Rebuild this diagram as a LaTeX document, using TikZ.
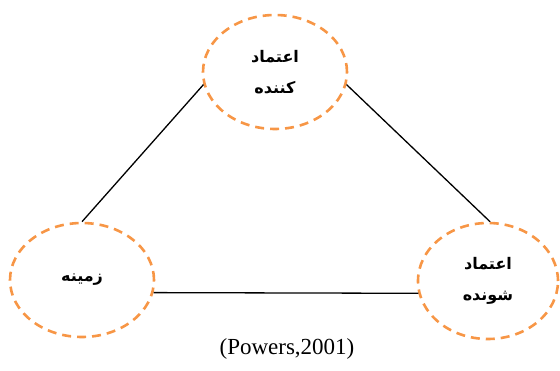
\documentclass[tikz,border=0pt]{standalone}
\usepackage{fontspec}
\setmainfont{Liberation Serif}
\newfontfamily\fa[Script=Arabic]{DejaVu Sans}
\TeXXeTstate=1
\usetikzlibrary{shapes.geometric}
\definecolor{dashorange}{HTML}{F79646}
\tikzset{
  party/.style={ellipse, draw=dashorange, line width=2.6pt, dash pattern=on 9pt off 6pt,
    minimum width=144pt, minimum height=114pt, inner sep=0pt, align=center,
    font=\fa\bfseries\fontsize{16}{31}\selectfont},
  link/.style={draw=black, line width=1.3pt}
}
\begin{document}
\begin{tikzpicture}[x=1pt,y=1pt]
\useasboundingbox (0,0) rectangle (560,370);
\node[party] (top) at (275,298) {\beginR اعتماد\endR\\\beginR کننده\endR};
\node[party] (left) at (82,90) {\beginR زمینه\endR};
\node[party, minimum width=140pt, minimum height=116pt] (right) at (488,89) {\beginR اعتماد\endR\\\beginR شونده\endR};
\draw[link] (top.190) -- (left.90);
\draw[link] (top.350) -- (right.88);
\draw[link] (left.350) -- (right.190);
\node[font=\fontsize{23}{25}\selectfont] (cap) at (287,21) {(Powers,2001)};
\end{tikzpicture}
\end{document}
